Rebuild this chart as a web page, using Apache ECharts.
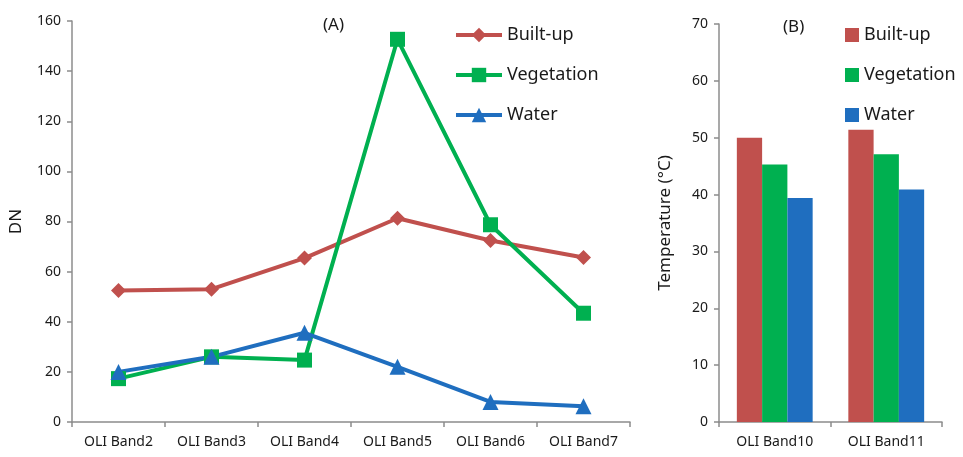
<!DOCTYPE html>
<html>
<head>
<meta charset="utf-8">
<script src="https://cdn.jsdelivr.net/npm/echarts@6/dist/echarts.min.js"></script>
<style>
  html, body { margin: 0; padding: 0; background: #fff; }
  #chart { width: 963px; height: 457px; }
</style>
</head>
<body>
<div id="chart"></div>
<script>
// Panel (A): reflectance DN per OLI band
const bandsA = ['OLI Band2', 'OLI Band3', 'OLI Band4', 'OLI Band5', 'OLI Band6', 'OLI Band7'];
const builtUpDN = [52.5, 53, 65.4, 81.3, 72.4, 65.6];
const vegetationDN = [17.3, 26, 24.7, 152.7, 78.7, 43.4];
const waterDN = [20, 26, 35.6, 22, 8, 6.3];

// Panel (B): temperature per thermal band
const bandsB = ['OLI Band10', 'OLI Band11'];
const builtUpT = [50, 51.4];
const vegetationT = [45.3, 47.1];
const waterT = [39.4, 40.9];

const names = ['Built-up', 'Vegetation', 'Water'];
const colors = ['#C0504D', '#00B050', '#1F6EBF'];
const font = '"Noto Sans", sans-serif';
const axisGray = '#8c8c8c';
const textColor = '#1a1a1a';

const chart = echarts.init(document.getElementById('chart'));

const axisLine = { show: true, lineStyle: { color: axisGray, width: 1.5 } };
const axisTick = { show: true, lineStyle: { color: axisGray, width: 1.5 }, length: 5 };
const tickLabel = { color: textColor, fontFamily: font, fontSize: 14 };
const legendText = { fontSize: 18, lineHeight: 18, color: textColor, fontFamily: font };

chart.setOption({
  animation: false,
  color: colors,
  textStyle: { fontFamily: font },
  title: [
    { text: '(A)', left: 318, top: 12, textStyle: { fontSize: 17, fontWeight: 'normal', color: textColor, fontFamily: font } },
    { text: '(B)', left: 778, top: 14, textStyle: { fontSize: 17, fontWeight: 'normal', color: textColor, fontFamily: font } }
  ],
  legend: [
    {
      orient: 'vertical',
      left: 454,
      top: 26,
      padding: 0,
      itemWidth: 46,
      itemHeight: 18,
      itemGap: 22,
      textStyle: legendText,
      lineStyle: { width: 4 },
      data: names
    },
    {
      orient: 'vertical',
      left: 845,
      top: 26,
      padding: 0,
      itemWidth: 14,
      itemHeight: 14,
      itemGap: 22,
      textStyle: legendText,
      data: names.map(n => ({ name: n, icon: 'rect' }))
    }
  ],
  grid: [
    { left: 68, right: 333, top: 21, bottom: 35 },
    { left: 719, right: 21, top: 24, bottom: 35 }
  ],
  xAxis: [
    { type: 'category', gridIndex: 0, data: bandsA, axisLine, axisTick,
      splitLine: { show: false }, axisLabel: Object.assign({ margin: 13 }, tickLabel) },
    { type: 'category', gridIndex: 1, data: bandsB, axisLine, axisTick,
      splitLine: { show: false }, axisLabel: Object.assign({ margin: 13 }, tickLabel) }
  ],
  yAxis: [
    { type: 'value', gridIndex: 0, min: 0, max: 160, interval: 20, axisLine, axisTick,
      splitLine: { show: false }, axisLabel: Object.assign({ margin: 11 }, tickLabel),
      name: 'DN', nameLocation: 'middle', nameGap: 47,
      nameTextStyle: { fontSize: 17, color: textColor, fontFamily: font } },
    { type: 'value', gridIndex: 1, min: 0, max: 70, interval: 10, axisLine, axisTick,
      splitLine: { show: false }, axisLabel: Object.assign({ margin: 11 }, tickLabel),
      name: 'Temperature (°C)', nameLocation: 'middle', nameGap: 45,
      nameTextStyle: { fontSize: 17, color: textColor, fontFamily: font } }
  ],
  series: [
    { name: names[0], type: 'line', xAxisIndex: 0, yAxisIndex: 0, data: builtUpDN,
      symbol: 'diamond', symbolSize: 15, lineStyle: { width: 4 } },
    { name: names[1], type: 'line', xAxisIndex: 0, yAxisIndex: 0, data: vegetationDN,
      symbol: 'rect', symbolSize: 15, lineStyle: { width: 4 } },
    { name: names[2], type: 'line', xAxisIndex: 0, yAxisIndex: 0, data: waterDN,
      symbol: 'triangle', symbolSize: 16, lineStyle: { width: 4 } },
    { name: names[0], type: 'bar', xAxisIndex: 1, yAxisIndex: 1, data: builtUpT,
      barGap: '0%', barCategoryGap: '32%' },
    { name: names[1], type: 'bar', xAxisIndex: 1, yAxisIndex: 1, data: vegetationT,
      barGap: '0%', barCategoryGap: '32%' },
    { name: names[2], type: 'bar', xAxisIndex: 1, yAxisIndex: 1, data: waterT,
      barGap: '0%', barCategoryGap: '32%' }
  ]
});
</script>
</body>
</html>
